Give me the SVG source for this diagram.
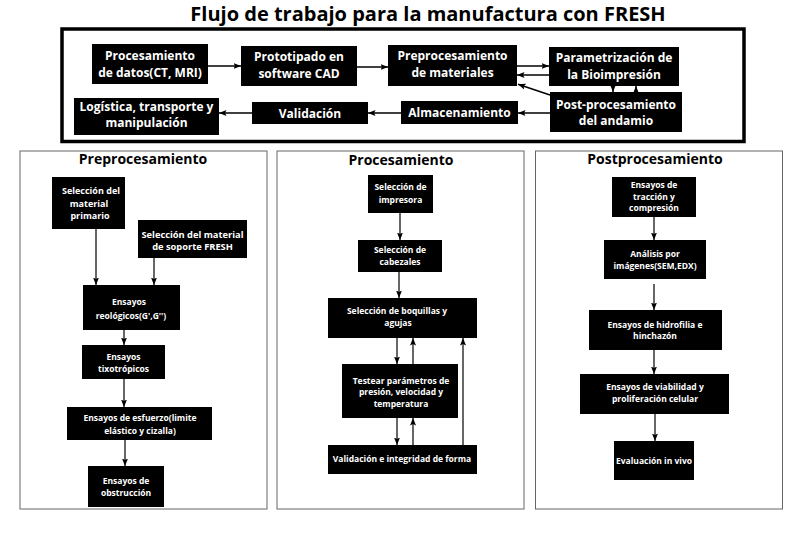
<svg xmlns="http://www.w3.org/2000/svg" width="800" height="537" viewBox="0 0 800 537">
<defs>
<marker id="ah" markerUnits="userSpaceOnUse" markerWidth="8" markerHeight="8" viewBox="0 0 8 8" refX="7.5" refY="4" orient="auto">
<path d="M0,1 L7.5,4 L0,7 L1.5,4 Z" fill="#000"/>
</marker>
</defs>
<style>
.bx{fill:#000}
.tt{font-family:"Open Sans","Noto Sans",sans-serif;font-weight:700;fill:#fff;text-anchor:middle}
.t1{font-size:12px}
.t2{font-size:8.5px}
.pn{fill:#fff;stroke:#666;stroke-width:1}
.ph{font-family:"Open Sans","Noto Sans",sans-serif;font-weight:700;fill:#000;text-anchor:middle;font-size:14px}
.c{stroke:#000;stroke-width:1.5;fill:none;marker-end:url(#ah)}
.c2{stroke:#000;stroke-width:1.2;fill:none;marker-end:url(#ah)}
</style>
<rect width="800" height="537" fill="#fff"/>
<text x="428" y="21" font-family="Open Sans, Noto Sans, sans-serif" font-weight="700" font-size="20" text-anchor="middle" fill="#000">Flujo de trabajo para la manufactura con FRESH</text>
<rect x="62" y="29" width="682" height="112.5" fill="none" stroke="#000" stroke-width="3.5"/>
<g id="datos"><rect class="bx" x="92" y="44" width="116" height="40"/><text class="tt t1"><tspan x="150" y="60">Procesamiento</tspan><tspan x="150" y="76.5">de datos(CT, MRI)</tspan></text></g>
<g id="cad"><rect class="bx" x="241" y="46" width="116" height="40"/><text class="tt t1"><tspan x="299" y="61">Prototipado en</tspan><tspan x="299" y="77.5">software CAD</tspan></text></g>
<g id="materiales"><rect class="bx" x="388" y="45" width="129" height="41"/><text class="tt t1"><tspan x="452.5" y="60">Preprocesamiento</tspan><tspan x="452.5" y="76.5">de materiales</tspan></text></g>
<g id="param"><rect class="bx" x="549" y="47" width="130" height="39"/><text class="tt t1"><tspan x="614" y="62">Parametrización de</tspan><tspan x="614" y="78.5">la Bioimpresión</tspan></text></g>
<g id="post"><rect class="bx" x="550" y="92" width="132" height="40"/><text class="tt t1"><tspan x="616" y="108.5">Post-procesamiento</tspan><tspan x="616" y="125">del andamio</tspan></text></g>
<g id="almacen"><rect class="bx" x="401" y="101" width="117" height="23"/><text class="tt t1" x="459.5" y="116.5">Almacenamiento</text></g>
<g id="validacion"><rect class="bx" x="252" y="102" width="116" height="22"/><text class="tt t1" x="310" y="117.5">Validación</text></g>
<g id="logistica"><rect class="bx" x="74" y="98" width="145" height="37"/><text class="tt t1"><tspan x="146.5" y="110.5">Logística, transporte y</tspan><tspan x="146.5" y="126.5">manipulación</tspan></text></g>

<rect class="pn" x="20" y="151" width="247" height="358"/>
<rect class="pn" x="277" y="151" width="247" height="358"/>
<rect class="pn" x="535.5" y="151" width="247" height="358"/>
<text class="ph" x="143" y="164">Preprocesamiento</text>
<text class="ph" x="401" y="164.5">Procesamiento</text>
<text class="ph" x="655" y="164">Postprocesamiento</text>

<g id="primario"><rect class="bx" x="52" y="177" width="73" height="52"/><text class="tt t2" style="font-size:9px"><tspan x="91" y="193.5">Selección del</tspan><tspan x="89" y="206.5">material</tspan><tspan x="90" y="219">primario</tspan></text></g>
<g id="soporte"><rect class="bx" x="138" y="220" width="109" height="38"/><text class="tt t2" style="font-size:9.3px"><tspan x="192.5" y="237.5">Selección del material</tspan><tspan x="192.5" y="250">de soporte FRESH</tspan></text></g>
<g id="reologicos"><rect class="bx" x="83" y="285" width="97" height="45"/><text class="tt t2"><tspan x="129" y="304.5">Ensayos</tspan><tspan x="131" y="318.5">reológicos(G',G'')</tspan></text></g>
<g id="tixotropicos"><rect class="bx" x="82" y="345" width="83" height="34"/><text class="tt t2"><tspan x="123.5" y="359.5">Ensayos</tspan><tspan x="123.5" y="371.5">tixotrópicos</tspan></text></g>
<g id="esfuerzo"><rect class="bx" x="67" y="407" width="145" height="33"/><text class="tt t2"><tspan x="140" y="421">Ensayos de esfuerzo(limite</tspan><tspan x="140" y="433.5">elástico y cizalla)</tspan></text></g>
<g id="obstruccion"><rect class="bx" x="88" y="466" width="76" height="41"/><text class="tt t2"><tspan x="126" y="483.5">Ensayos de</tspan><tspan x="126" y="495.5">obstrucción</tspan></text></g>

<g id="impresora"><rect class="bx" x="368" y="175" width="65" height="38"/><text class="tt t2"><tspan x="400.5" y="190">Selección de</tspan><tspan x="400.5" y="202.5">impresora</tspan></text></g>
<g id="cabezales"><rect class="bx" x="358" y="240" width="84" height="32"/><text class="tt t2"><tspan x="400" y="252.5">Selección de</tspan><tspan x="400" y="264.5">cabezales</tspan></text></g>
<g id="boquillas"><rect class="bx" x="328" y="298" width="149" height="40"/><text class="tt t2"><tspan x="397" y="313.5">Selección de boquillas y</tspan><tspan x="398" y="326">agujas</tspan></text></g>
<g id="testear"><rect class="bx" x="342" y="364" width="116" height="54"/><text class="tt t2"><tspan x="401" y="383.5">Testear parámetros de</tspan><tspan x="401" y="395">presión, velocidad y</tspan><tspan x="401" y="406.5">temperatura</tspan></text></g>
<g id="integridad"><rect class="bx" x="328" y="445" width="149" height="29"/><text class="tt t2" x="402" y="462">Validación e integridad de forma</text></g>

<g id="traccion"><rect class="bx" x="612" y="177" width="84" height="40"/><text class="tt t2"><tspan x="654" y="188">Ensayos de</tspan><tspan x="654" y="199.5">tracción y</tspan><tspan x="654" y="211">compresión</tspan></text></g>
<g id="analisis"><rect class="bx" x="604" y="240" width="102" height="39"/><text class="tt t2"><tspan x="655" y="257">Análisis por</tspan><tspan x="655" y="269">imágenes(SEM,EDX)</tspan></text></g>
<g id="hidrofilia"><rect class="bx" x="589" y="310" width="133" height="40"/><text class="tt t2"><tspan x="655" y="327.5">Ensayos de hidrofilia e</tspan><tspan x="655" y="338.5">hinchazón</tspan></text></g>
<g id="viabilidad"><rect class="bx" x="580" y="374" width="149" height="40"/><text class="tt t2"><tspan x="655" y="390">Ensayos de viabilidad y</tspan><tspan x="655" y="402">proliferación celular</tspan></text></g>
<g id="invivo"><rect class="bx" x="614" y="441" width="80" height="39"/><text class="tt t2" x="654" y="463.5">Evaluación in vivo</text></g>

<g id="connectors">
<line class="c" x1="208" y1="66" x2="241" y2="66"/>
<line class="c" x1="357" y1="67" x2="388" y2="67"/>
<line class="c" x1="517" y1="66" x2="549" y2="66"/>
<line class="c" x1="549" y1="75" x2="517" y2="75"/>
<line class="c" x1="613" y1="86" x2="613" y2="92"/>
<line class="c" x1="636" y1="92" x2="636" y2="86"/>
<line class="c" x1="550" y1="95" x2="518" y2="84.3"/>
<line class="c" x1="550" y1="113" x2="518" y2="113"/>
<line class="c" x1="401" y1="113" x2="368" y2="113"/>
<line class="c" x1="252" y1="113" x2="219" y2="113"/>

<line class="c2" x1="96" y1="229" x2="96" y2="285"/>
<line class="c2" x1="154" y1="258" x2="154" y2="285"/>
<line class="c2" x1="124" y1="330" x2="124" y2="345"/>
<line class="c2" x1="124" y1="379" x2="124" y2="407"/>
<line class="c2" x1="125" y1="440" x2="125" y2="466"/>

<line class="c2" x1="400" y1="213" x2="400" y2="240"/>
<line class="c2" x1="399" y1="272" x2="399" y2="298"/>
<line class="c2" x1="397" y1="338" x2="397" y2="364"/>
<line class="c2" x1="413" y1="364" x2="413" y2="338"/>
<line class="c2" x1="397" y1="418" x2="397" y2="445"/>
<line class="c2" x1="413" y1="445" x2="413" y2="418"/>
<line class="c2" x1="463" y1="445" x2="463" y2="338"/>

<line class="c2" x1="654" y1="217" x2="654" y2="240"/>
<line class="c2" x1="654" y1="284" x2="654" y2="310"/>
<line class="c2" x1="654" y1="350" x2="654" y2="374"/>
<line class="c2" x1="655" y1="414" x2="655" y2="441"/>
</g>
</svg>
